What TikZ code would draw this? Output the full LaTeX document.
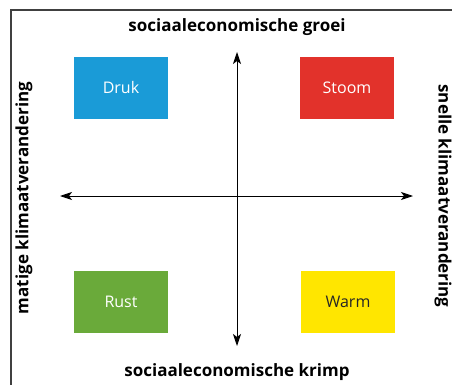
\documentclass[tikz,border=0pt]{standalone}
\usepackage{fontspec}
\setmainfont{Open Sans}
\usetikzlibrary{arrows.meta}
\definecolor{druk}{HTML}{1A9BD7}
\definecolor{stoom}{HTML}{E2322B}
\definecolor{rust}{HTML}{6AAA3A}
\definecolor{warm}{HTML}{FFE600}
\tikzset{
  kwadrant/.style={minimum width=94pt,minimum height=62pt,inner sep=0pt,font=\fontsize{16}{18}\selectfont},
  aslabel/.style={font=\bfseries\fontsize{17}{20}\selectfont,inner sep=0pt},
  pijl/.style={{Stealth[length=12pt,width=8pt,inset=3pt]}-{Stealth[length=12pt,width=8pt,inset=3pt]},line width=0.9pt}
}
\begin{document}
\begin{tikzpicture}[x=1pt,y=-1pt]
                \useasboundingbox (0,0) rectangle (452,385);
                \draw[line width=1.2pt,black!75] (452,10)--(11,10)--(11,385);
                \path
                (237,52) coordinate (N)
                (237,346) coordinate (Z)
                (60,196) coordinate (W)
                (413,196) coordinate (E)
                ;
                \draw[pijl] (N)--(Z);
                \draw[pijl] (W)--(E);
                \foreach \n/\p/\c/\t in {Druk/{121,88}/druk/white,Stoom/{347,88}/stoom/white,Rust/{121,302}/rust/white,Warm/{348,302}/warm/black!85}
                    \node[kwadrant,fill=\c,text=\t] (\n) at (\p) {\n};
                \node[aslabel] (groei) at (237,27) {sociaaleconomische groei};
                \node[aslabel] (krimp) at (237,372) {sociaaleconomische krimp};
                \node[aslabel,rotate=90] (matig) at (24,198) {matige klimaatverandering};
                \node[aslabel,rotate=-90] (snel) at (443,196) {snelle klimaatverandering};
            \end{tikzpicture}
\end{document}
